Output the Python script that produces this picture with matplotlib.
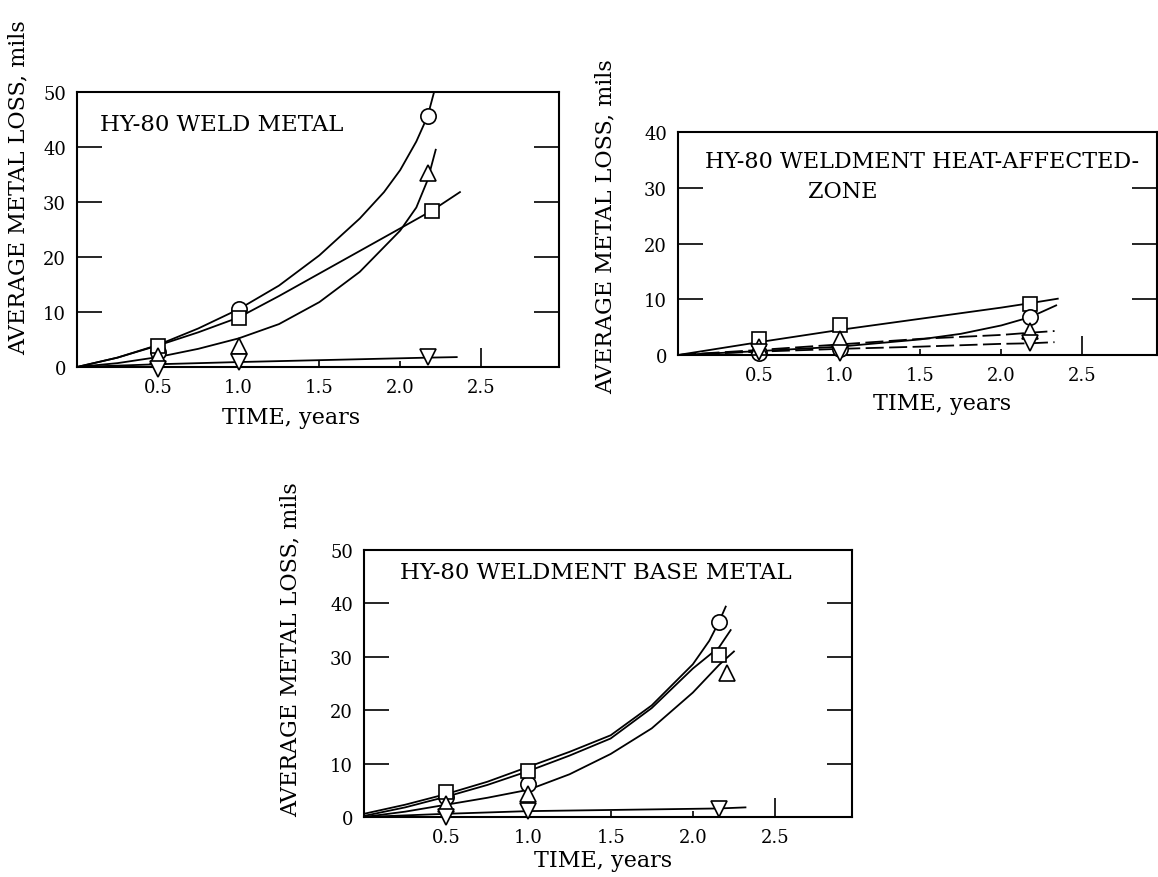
#!/usr/bin/env python3
"""
Average metal loss vs. exposure time for HY-80 weldment specimens
(weld metal, heat-affected zone, base metal)
"""

import matplotlib
matplotlib.use('Agg')  # Non-interactive backend
import matplotlib.pyplot as plt

# ---------------- data ----------------
# Panel 1: HY-80 weld metal
weld_t = [0.5, 1.0, 2.17]
weld_t_sq = [0.5, 1.0, 2.2]
weld_circ = [2.7, 10.5, 45.6]
weld_sq = [3.8, 9.0, 28.3]
weld_tri = [2.0, 3.8, 35.3]
weld_dtri = [-0.4, 1.0, 1.8]

weld_circ_fit_t = [0, 0.25, 0.5, 0.75, 1.0, 1.25, 1.5, 1.75, 1.9, 2.0, 2.1, 2.17, 2.21]
weld_circ_fit = [0, 1.7, 4.0, 7.0, 10.5, 14.8, 20.3, 27.0, 31.8, 35.8, 41.0, 45.6, 50.0]
weld_sq_fit_t = [0, 0.25, 0.5, 0.75, 1.0, 1.25, 1.5, 1.75, 2.0, 2.2, 2.37]
weld_sq_fit = [0, 1.7, 3.9, 6.3, 9.0, 12.9, 17.0, 21.1, 25.2, 28.5, 31.8]
weld_tri_fit_t = [0, 0.25, 0.5, 0.75, 1.0, 1.25, 1.5, 1.75, 2.0, 2.1, 2.17, 2.22]
weld_tri_fit = [0, 0.7, 1.8, 3.3, 5.2, 7.8, 11.8, 17.3, 24.8, 29.0, 34.0, 39.5]
weld_dtri_fit_t = [0, 0.5, 1.0, 2.17, 2.35]
weld_dtri_fit = [0, 0.5, 0.9, 1.7, 1.8]

# Panel 2: HY-80 weldment heat-affected zone
haz_t = [0.5, 1.0, 2.18]
haz_sq = [2.8, 5.3, 9.2]
haz_circ = [0.3, 1.0, 6.8]
haz_tri = [1.5, 2.8, 4.3]
haz_dtri = [0.5, 0.3, 2.2]

haz_sq_fit_t = [0, 0.5, 1.0, 1.5, 2.0, 2.18, 2.35]
haz_sq_fit = [0, 2.3, 4.5, 6.5, 8.5, 9.3, 10.1]
haz_circ_fit_t = [0, 0.5, 1.0, 1.5, 1.75, 2.0, 2.18, 2.34]
haz_circ_fit = [0, 0.7, 1.5, 2.8, 3.8, 5.3, 6.8, 8.9]
haz_tri_fit_t = [0, 0.5, 1.0, 1.5, 2.0, 2.18, 2.33]
haz_tri_fit = [0, 0.9, 1.9, 2.9, 3.6, 4.0, 4.3]
haz_dtri_fit_t = [0, 0.5, 1.0, 1.5, 2.0, 2.18, 2.33]
haz_dtri_fit = [0, 0.6, 1.1, 1.5, 2.0, 2.1, 2.3]

# Panel 3: HY-80 weldment base metal
base_t = [0.5, 1.0, 2.16]
base_tri_t = [0.5, 1.0, 2.21]
base_circ = [3.7, 6.2, 36.6]
base_sq = [4.6, 8.7, 30.3]
base_tri = [2.4, 4.3, 27.0]
base_dtri = [0.0, 1.1, 1.5]

base_circ_fit_t = [0, 0.25, 0.5, 0.75, 1.0, 1.25, 1.5, 1.75, 2.0, 2.1, 2.16, 2.2]
base_circ_fit = [0.6, 2.3, 4.3, 6.6, 9.4, 12.2, 15.3, 20.9, 28.6, 33.0, 36.6, 39.4]
base_sq_fit_t = [0, 0.25, 0.5, 0.75, 1.0, 1.25, 1.5, 1.75, 2.0, 2.16, 2.23]
base_sq_fit = [0.2, 1.8, 3.8, 6.0, 8.6, 11.5, 14.7, 20.4, 27.8, 31.8, 35.0]
base_tri_fit_t = [0, 0.25, 0.5, 0.75, 1.0, 1.25, 1.5, 1.75, 2.0, 2.16, 2.25]
base_tri_fit = [0, 1.0, 2.3, 3.6, 5.1, 8.0, 11.8, 16.6, 23.3, 28.5, 31.0]
base_dtri_fit_t = [0, 0.5, 1.0, 2.16, 2.32]
base_dtri_fit = [0, 0.6, 1.1, 1.6, 1.8]

x_ticks = [0.5, 1.0, 1.5, 2.0, 2.5]
x_labels = ['0.5', '1.0', '1.5', '2.0', '2.5']

FONT = 'DejaVu Serif'
W, H = 1158, 878


def px_axes(left, top, right, bottom):
    """Convert pixel box to figure-fraction rect"""
    return [left / W, 1 - bottom / H, (right - left) / W, (bottom - top) / H]


def style_axes(ax, xmax, ymax, yticks):
    ax.set_xlim(0, xmax)
    ax.set_ylim(0, ymax)
    for s in ax.spines.values():
        s.set_linewidth(1.5)
    ax.set_xticks(x_ticks)
    ax.set_xticklabels(x_labels, fontfamily=FONT, fontsize=13)
    ax.tick_params(axis='x', direction='in', length=4, width=1.2, pad=8)
    ax.set_yticks(yticks)
    ax.set_yticklabels([str(v) for v in yticks], fontfamily=FONT, fontsize=13)
    ax.tick_params(axis='y', direction='in', length=18, width=1.2, pad=8,
                   left=True, right=True)
    # longer tick at 2.5
    ax.xaxis.get_major_ticks()[-1].tick1line.set_markersize(14)
    # hide tick marks on the frame itself (0 and top)
    for t in (ax.yaxis.get_major_ticks()[0], ax.yaxis.get_major_ticks()[-1]):
        t.tick1line.set_visible(False)
        t.tick2line.set_visible(False)


def draw_curve(ax, t, y, ls='-'):
    ax.plot(t, y, color='black', linewidth=1.3, linestyle=ls, zorder=2)


def draw_points(ax, t, y, marker, ms=11):
    ax.plot(t, y, linestyle='none', marker=marker, markersize=ms,
            markerfacecolor='white', markeredgecolor='black',
            markeredgewidth=1.2, zorder=3, clip_on=False)


fig = plt.figure(figsize=(W / 100, H / 100), dpi=100)
fig.patch.set_facecolor('white')

# ---------------- panel 1 ----------------
ax1 = fig.add_axes(px_axes(77, 93, 559, 368))
style_axes(ax1, 2.983, 50, [0, 10, 20, 30, 40, 50])
draw_curve(ax1, weld_circ_fit_t, weld_circ_fit)
draw_curve(ax1, weld_sq_fit_t, weld_sq_fit)
draw_curve(ax1, weld_tri_fit_t, weld_tri_fit)
draw_curve(ax1, weld_dtri_fit_t, weld_dtri_fit)
draw_points(ax1, weld_t, weld_circ, 'o')
draw_points(ax1, weld_t_sq, weld_sq, 's', 10)
draw_points(ax1, weld_t, weld_tri, '^', 12)
draw_points(ax1, weld_t, weld_dtri, 'v', 12)
ax1.text(0.048, 0.884, 'HY-80 WELD METAL', transform=ax1.transAxes,
         fontfamily=FONT, fontsize=16.5, va='center', ha='left')

# ---------------- panel 2 ----------------
ax2 = fig.add_axes(px_axes(678, 133, 1157, 356))
style_axes(ax2, 2.964, 40, [0, 10, 20, 30, 40])
draw_curve(ax2, haz_sq_fit_t, haz_sq_fit)
draw_curve(ax2, haz_circ_fit_t, haz_circ_fit)
draw_curve(ax2, haz_tri_fit_t, haz_tri_fit, ls=(0, (10, 3)))
draw_curve(ax2, haz_dtri_fit_t, haz_dtri_fit, ls=(0, (10, 3)))
draw_points(ax2, haz_t, haz_sq, 's', 10)
draw_points(ax2, haz_t, haz_circ, 'o')
draw_points(ax2, haz_t, haz_tri, '^', 12)
draw_points(ax2, haz_t, haz_dtri, 'v', 12)
ax2.text(0.056, 0.87, 'HY-80 WELDMENT HEAT-AFFECTED-', transform=ax2.transAxes,
         fontfamily=FONT, fontsize=16, va='center', ha='left')
ax2.text(0.271, 0.735, 'ZONE', transform=ax2.transAxes,
         fontfamily=FONT, fontsize=16, va='center', ha='left')

# ---------------- panel 3 ----------------
ax3 = fig.add_axes(px_axes(364, 551, 852, 818))
style_axes(ax3, 2.968, 50, [0, 10, 20, 30, 40, 50])
draw_curve(ax3, base_circ_fit_t, base_circ_fit)
draw_curve(ax3, base_sq_fit_t, base_sq_fit)
draw_curve(ax3, base_tri_fit_t, base_tri_fit)
draw_curve(ax3, base_dtri_fit_t, base_dtri_fit)
draw_points(ax3, base_t, base_circ, 'o')
draw_points(ax3, base_t, base_sq, 's', 10)
draw_points(ax3, base_tri_t, base_tri, '^', 12)
draw_points(ax3, base_t, base_dtri, 'v', 12)
ax3.text(0.074, 0.918, 'HY-80 WELDMENT BASE METAL', transform=ax3.transAxes,
         fontfamily=FONT, fontsize=16.5, va='center', ha='left')

# ---------------- axis titles ----------------
ylab = 'AVERAGE METAL LOSS, mils'
xlab = 'TIME, years'
for (yx, yy), (xx, xy) in [((19, 188), (291, 418)),
                            ((606, 227), (942, 404)),
                            ((291, 650), (603, 861))]:
    fig.text(yx / W, 1 - yy / H, ylab, rotation=90, ha='center', va='center',
             fontfamily=FONT, fontsize=16)
    fig.text(xx / W, 1 - xy / H, xlab, ha='center', va='center',
             fontfamily=FONT, fontsize=16)

plt.savefig('out.png', dpi=100)
plt.close()
